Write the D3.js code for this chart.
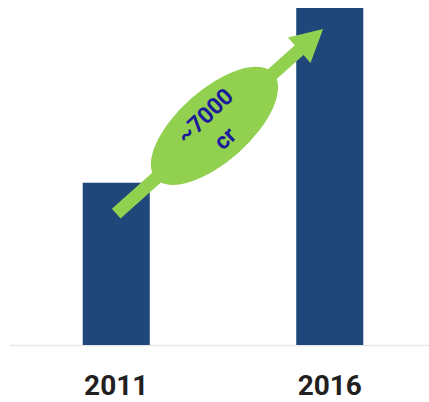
<!DOCTYPE html>
<html>
<head>
<meta charset="utf-8">
<script src="https://cdn.jsdelivr.net/npm/d3@7"></script>
<style>
  html, body { margin: 0; padding: 0; background: #fff; }
  svg { display: block; }
</style>
</head>
<body>
<svg id="chart" width="429" height="402"></svg>
<script>
// data
const years = ['2011', '2016']
const values = [6500, 13500]
const growthLabel = ['~7000', 'cr']

const width = 429
const height = 402
const baseline = 345

const svg = d3.select('#chart')

const x = d3.scaleBand()
    .domain(years)
    .range([40, 406])
    .paddingInner(0.686)
    .paddingOuter(0.2)

const y = d3.scaleLinear()
    .domain([0, 13500])
    .range([baseline, 8])

// baseline
svg.append('line')
    .attr('x1', 10)
    .attr('x2', width)
    .attr('y1', baseline + 0.5)
    .attr('y2', baseline + 0.5)
    .attr('stroke', '#e8e8e8')
    .attr('stroke-width', 1.5)

// bars
svg.append('g')
  .selectAll('rect')
  .data(values)
  .join('rect')
    .attr('x', (d, i) => x(years[i]))
    .attr('y', d => y(d))
    .attr('width', x.bandwidth())
    .attr('height', d => baseline - y(d))
    .attr('fill', '#1f477a')

// axis labels
const axis = svg.append('g')
    .attr('transform', `translate(0,${baseline})`)
    .call(d3.axisBottom(x).tickSize(0).tickPadding(30))

axis.select('.domain').remove()
axis.selectAll('text')
    .attr('font-family', 'Roboto, sans-serif')
    .attr('font-weight', 'bold')
    .attr('font-size', 28)
    .attr('fill', '#231f20')

// growth arrow, anchored to the bars
const tail = [x(years[0]) + x.bandwidth() / 2, y(values[0] * 0.81)]
const tip = [x(years[1]) + x.bandwidth() * 0.4, y(values[1] * 0.938)]

const dx = tip[0] - tail[0]
const dy = tip[1] - tail[1]
const len = Math.hypot(dx, dy)
const angle = Math.atan2(dy, dx) * 180 / Math.PI

const shaft = 6.5
const headLen = 32
const headHalf = 17
const mid = len * 0.475

const arrow = svg.append('g')
    .attr('transform', `translate(${tail[0]},${tail[1]}) rotate(${angle})`)

arrow.append('path')
    .attr('d', d3.line()([
      [0, -shaft],
      [len - headLen, -shaft],
      [len - headLen, -headHalf],
      [len, 0],
      [len - headLen, headHalf],
      [len - headLen, shaft],
      [0, shaft]
    ]))
    .attr('fill', '#92d050')

arrow.append('ellipse')
    .attr('cx', mid)
    .attr('cy', 0)
    .attr('rx', 79)
    .attr('ry', 36)
    .attr('fill', '#92d050')

const label = arrow.append('g')
    .attr('transform', `translate(${mid},0) rotate(-2)`)

label.selectAll('text')
  .data(growthLabel)
  .join('text')
    .attr('x', (d, i) => i === 0 ? 0 : -1)
    .attr('y', (d, i) => i === 0 ? -6 : 24)
    .attr('text-anchor', 'middle')
    .attr('font-family', 'Roboto, sans-serif')
    .attr('font-weight', 'bold')
    .attr('font-size', 23)
    .attr('fill', '#1c1c9a')
    .text(d => d)
</script>
</body>
</html>
